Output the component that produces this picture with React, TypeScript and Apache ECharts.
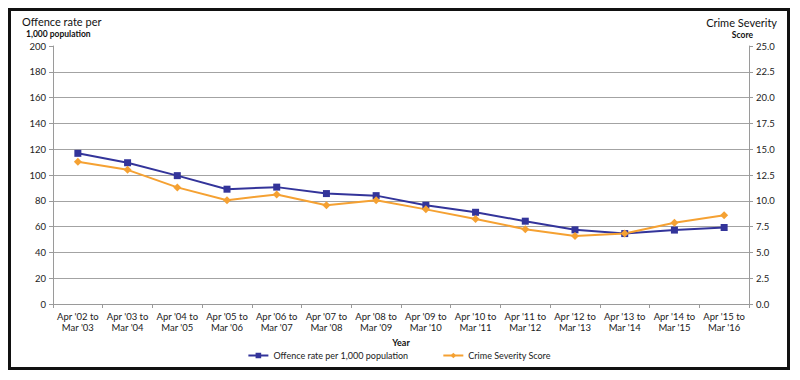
import React, { useEffect, useRef } from "react";
import * as echarts from "echarts";

const categories = [
  "Apr '02 to\nMar '03",
  "Apr '03 to\nMar '04",
  "Apr '04 to\nMar '05",
  "Apr '05 to\nMar '06",
  "Apr '06 to\nMar '07",
  "Apr '07 to\nMar '08",
  "Apr '08 to\nMar '09",
  "Apr '09 to\nMar '10",
  "Apr '10 to\nMar '11",
  "Apr '11 to\nMar '12",
  "Apr '12 to\nMar '13",
  "Apr '13 to\nMar '14",
  "Apr '14 to\nMar '15",
  "Apr '15 to\nMar '16",
];

const offenceRate = [116.8, 109.5, 99.5, 89, 90.6, 85.6, 84, 76.6, 71.1, 64.2, 57.5, 54.6, 57.3, 59.3];
const crimeSeverity = [13.78, 13.0, 11.3, 10.05, 10.62, 9.57, 10.05, 9.17, 8.24, 7.25, 6.6, 6.83, 7.88, 8.6];

const leftTitle = ["Offence rate per", "1,000 population"];
const rightTitle = ["Crime Severity", "Score"];
const xAxisTitle = "Year";

const FONT = "Lato, 'Open Sans', sans-serif";
const BLUE = "#33349a";
const ORANGE = "#f5a132";

export default function App() {
  const ref = useRef<HTMLDivElement>(null);
  useEffect(() => {
    if (!ref.current) return;
    const chart = echarts.init(ref.current, null, { renderer: "svg" });
    chart.setOption({
      animation: false,
      textStyle: { fontFamily: FONT },
      grid: { left: 42, right: 38, top: 35, bottom: 63 },
      graphic: [
        { type: "text", left: 11, top: 5, style: { text: leftTitle[0], fontSize: 11, fill: "#111", fontFamily: FONT } },
        { type: "text", left: 15, top: 18, style: { text: leftTitle[1], fontSize: 8.5, fontWeight: "bold", fill: "#111", fontFamily: FONT } },
        { type: "text", right: 10, top: 6, style: { text: rightTitle[0], fontSize: 11, fill: "#111", fontFamily: FONT } },
        { type: "text", right: 34, top: 19, style: { text: rightTitle[1], fontSize: 8.5, fontWeight: "bold", fill: "#111", fontFamily: FONT } },
      ],
      legend: {
        bottom: 2,
        left: "center",
        itemGap: 34,
        itemWidth: 20,
        itemHeight: 7,
        textStyle: { fontSize: 9, color: "#222", fontFamily: FONT },
        data: [
          { name: "Offence rate per 1,000 population" },
          { name: "Crime Severity Score" },
        ],
      },
      xAxis: {
        type: "category",
        data: categories,
        boundaryGap: true,
        name: xAxisTitle,
        nameLocation: "middle",
        nameGap: 32,
        nameTextStyle: { fontSize: 9, fontWeight: "bold", color: "#111", fontFamily: FONT },
        axisLine: { lineStyle: { color: "#9a9a9a", width: 1 } },
        axisTick: { show: true, length: 4, interval: 0, lineStyle: { color: "#9a9a9a" } },
        axisLabel: { fontSize: 9.5, color: "#222", lineHeight: 11, margin: 7, interval: 0, fontFamily: FONT },
      },
      yAxis: [
        {
          type: "value",
          min: 0,
          max: 200,
          interval: 20,
          position: "left",
          axisLine: { show: true, lineStyle: { color: "#9a9a9a" } },
          axisTick: { show: true, length: 4, lineStyle: { color: "#9a9a9a" } },
          axisLabel: { fontSize: 9.5, color: "#222", margin: 7, fontFamily: FONT },
          splitLine: { show: true, showMaxLine: false, lineStyle: { color: "#a3a3a3", width: 1.2 } },
        },
        {
          type: "value",
          min: 0,
          max: 25,
          interval: 2.5,
          position: "right",
          axisLine: { show: true, lineStyle: { color: "#9a9a9a" } },
          axisTick: { show: true, length: 4, lineStyle: { color: "#9a9a9a" } },
          axisLabel: { fontSize: 9.5, color: "#222", margin: 7, fontFamily: FONT, formatter: (v: number) => v.toFixed(1) },
          splitLine: { show: false },
        },
      ],
      series: [
        {
          name: "Offence rate per 1,000 population",
          type: "line",
          yAxisIndex: 0,
          data: offenceRate,
          symbol: "rect",
          symbolSize: 7,
          lineStyle: { color: BLUE, width: 2 },
          itemStyle: { color: BLUE },
        },
        {
          name: "Crime Severity Score",
          type: "line",
          yAxisIndex: 1,
          data: crimeSeverity,
          symbol: "diamond",
          symbolSize: 8,
          lineStyle: { color: ORANGE, width: 2 },
          itemStyle: { color: ORANGE },
        },
      ],
    });
    return () => chart.dispose();
  }, []);

  return (
    <div
      style={{
        width: 782,
        height: 362,
        border: "3px solid #111",
        boxSizing: "border-box",
        background: "#fff",
      }}
    >
      <div ref={ref} style={{ width: 776, height: 356 }} />
    </div>
  );
}
